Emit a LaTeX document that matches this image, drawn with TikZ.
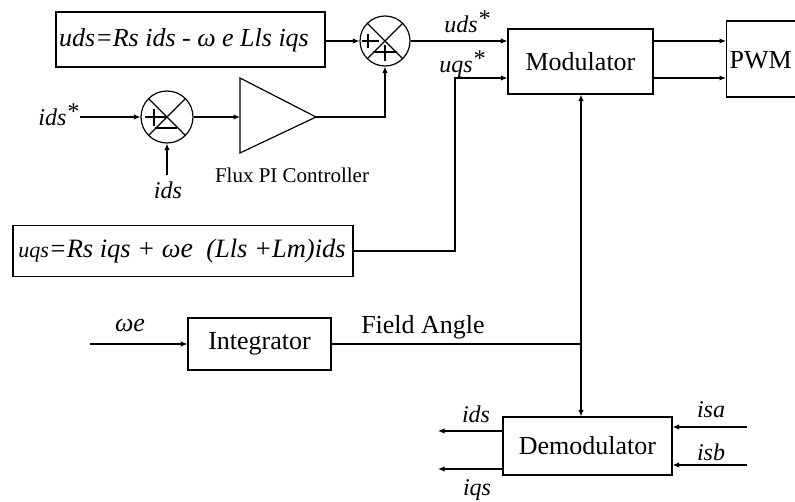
\documentclass[tikz,border=0pt]{standalone}
\usepackage{fontspec}
\setmainfont{Liberation Serif}
\usetikzlibrary{arrows.meta,calc}
\newcommand{\st}{\raisebox{0.55ex}{*}}
\begin{document}
\begin{tikzpicture}[x=1pt,y=-1pt,line width=1.2pt,
  arr/.style={-{Latex[length=6.5pt,width=5.5pt]}},
  blk/.style={draw,rectangle,inner sep=0pt},
  summ/.style={draw,circle,minimum size=#1,inner sep=0pt},
  lbl/.style={font=\fontsize{24}{24}\selectfont\itshape,inner sep=0pt},
  btxt/.style={font=\fontsize{26}{26}\selectfont}]
\useasboundingbox (0,0) rectangle (795,502);
\clip (0,0) rectangle (795,502);
% blocks
\node[blk,minimum width=269pt,minimum height=55pt] (eq1) at (190.5,39.5) {};
\node[lbl,font=\fontsize{26}{26}\selectfont\itshape] at (184,40) {uds=Rs ids - ω e Lls iqs};
\node[summ=50pt] (sum1) at (385,41) {};
\node[summ=52pt] (sum2) at (167,117) {};
\node[blk,minimum width=145pt,minimum height=65pt,btxt] (mod) at (580.5,61.5) {Modulator};
\node[blk,minimum width=108pt,minimum height=76pt,anchor=west] (pwm) at (726,59) {};
\node[btxt,anchor=west,inner sep=0pt] at (729,60) {PWM};
\node[blk,minimum width=340pt,minimum height=51pt] (eq2) at (183,251) {};
\node[lbl,font=\fontsize{26.5}{26.5}\selectfont\itshape] at (182,251) {{\fontsize{22}{22}\selectfont uqs}=Rs iqs + ω{\fontsize{28}{28}\selectfont e}\ \ (Lls +Lm)ids};
\node[blk,minimum width=143pt,minimum height=52pt,btxt] (integ) at (259.5,344) {Integrator};
\node[blk,minimum width=169pt,minimum height=58pt,btxt] (demod) at (587.5,446) {Demodulator};
% summer marks
\draw ($(sum1)+(-17.7,-17.7)$) -- ($(sum1)+(17.7,17.7)$);
\draw ($(sum1)+(-17.7,17.7)$) -- ($(sum1)+(17.7,-17.7)$);
\draw (362,41) -- (379,41) (368,34) -- (368,48);
\draw (373,52) -- (397,52) (385,45) -- (385,61);
\draw ($(sum2)+(-18.4,-18.4)$) -- ($(sum2)+(18.4,18.4)$);
\draw ($(sum2)+(-18.4,18.4)$) -- ($(sum2)+(18.4,-18.4)$);
\draw (145,117) -- (167,117) (154,109) -- (154,126);
\draw (155,128) -- (177,128);
% PI triangle
\coordinate (pil) at (240,117);
\coordinate (pit) at (316,117);
\draw (240,78) -- (pit) -- (240,153) -- cycle;
% coordinates
\coordinate (idsin) at (80,117);
\coordinate (idsb) at (167,175);
\coordinate (qturn) at (455,78);
\coordinate (win) at (90,344);
\coordinate (junc) at (581,344);
\coordinate (o1) at (438,431);
\coordinate (o2) at (438,469);
\coordinate (i1) at (747,427);
\coordinate (i2) at (747,465);
% connectors
\draw[arr] (eq1.east |- sum1) -- (sum1.west);
\draw[arr] (idsin) -- (sum2.west);
\draw[arr] (idsb) -- (sum2.south);
\draw[arr] (sum2.east) -- (pil);
\draw[arr] (pit) -| (sum1.south);
\draw[arr] (sum1.east) -- (mod.west |- sum1);
\draw[arr] (eq2.east) -| (qturn) -- (qturn -| mod.west);
\draw[arr] (mod.east |- sum1) -- (pwm.west |- sum1);
\draw[arr] (mod.east |- qturn) -- (pwm.west |- qturn);
\draw[arr] (win) -- (integ.west);
\draw (integ.east) -- (junc);
\draw[arr] (junc) -- (junc |- mod.south);
\draw[arr] (junc) -- (junc |- demod.north);
\draw[arr] (demod.west |- o1) -- (o1);
\draw[arr] (demod.west |- o2) -- (o2);
\draw[arr] (i1) -- (i1 -| demod.east);
\draw[arr] (i2) -- (i2 -| demod.east);
% labels
\node[lbl,anchor=east] at (79,115) {ids\st};
\node[lbl] at (168,190) {ids};
\node[font=\fontsize{21}{21}\selectfont,inner sep=0pt] at (292,175) {Flux PI Controller};
\node[lbl] at (467,22) {uds\st};
\node[lbl] at (462,64) {uqs\st};
\node[lbl,font=\fontsize{26}{26}\selectfont\itshape] at (130,326) {ωe};
\node[btxt,inner sep=0pt] at (423,327) {Field Angle};
\node[lbl] at (476,414) {ids};
\node[lbl] at (477,490) {iqs};
\node[lbl] at (711,410) {isa};
\node[lbl] at (711,452) {isb};
\end{tikzpicture}
\end{document}
